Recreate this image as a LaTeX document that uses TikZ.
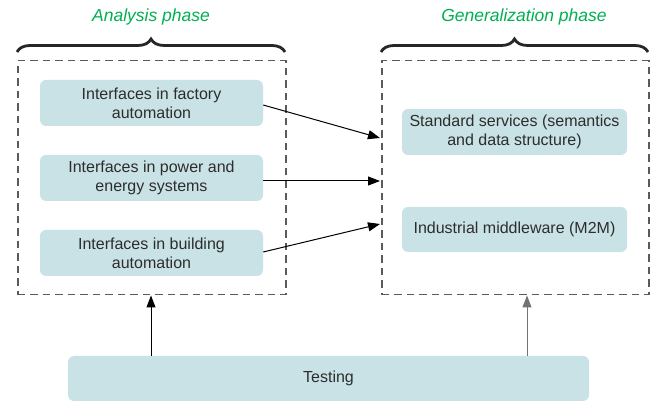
\documentclass[tikz,border=0pt]{standalone}
\usepackage{fontspec}
\setmainfont{Liberation Sans}
\usetikzlibrary{arrows.meta,decorations.pathreplacing}
\definecolor{boxfill}{RGB}{201,226,229}
\definecolor{txt}{RGB}{45,45,45}
\definecolor{phasegreen}{RGB}{0,176,80}
\definecolor{dashgray}{RGB}{90,90,90}
\tikzset{
  item/.style={fill=boxfill, rounded corners=6pt, text=txt, align=center, font=\fontsize{16}{19}\selectfont, inner sep=0pt},
  frame/.style={draw=dashgray, line width=1.5pt, dash pattern=on 7.5pt off 5pt},
  phase/.style={text=phasegreen, font=\fontsize{17.5}{20}\selectfont\itshape},
  conn/.style={-{Triangle[length=12pt,width=9pt]}, line width=1pt, black},
  brc/.style={decorate, decoration={brace, amplitude=13pt}, line width=2.8pt, black!85}
}
\begin{document}
\begin{tikzpicture}[x=1pt,y=-1pt]
\useasboundingbox (0,0) rectangle (657,403);
% frames
\node[frame, minimum width=268pt, minimum height=234pt, anchor=north west] (fa) at (17,60) {};
\node[frame, minimum width=267pt, minimum height=234pt, anchor=north west] (fg) at (381,60) {};
% braces
\draw[brc] (17,52) -- (285,52);
\draw[brc] (381,52) -- (648,52);
\node[phase] (ta) at (151,17) {Analysis phase};
\node[phase] (tg) at (524,17) {Generalization phase};
% left boxes
\node[item, minimum width=223pt, minimum height=46pt] (b1) at (151.5,103) {Interfaces in factory\\automation};
\node[item, minimum width=223pt, minimum height=46pt] (b2) at (151.5,178) {Interfaces in power and\\energy systems};
\node[item, minimum width=223pt, minimum height=46pt] (b3) at (151.5,253) {Interfaces in building\\automation};
% right boxes
\node[item, minimum width=225pt, minimum height=46pt] (r1) at (514.5,132) {Standard services (semantics\\and data structure)};
\node[item, minimum width=225pt, minimum height=45pt] (r2) at (514.5,229.5) {Industrial middleware (M2M)};
% testing
\node[item, minimum width=521pt, minimum height=45pt] (t) at (328.5,378.5) {Testing};
% connectors
\coordinate (e1) at (380,138);
\coordinate (e2) at (380,181);
\coordinate (e3) at (380,224);
\draw[conn] (b1.east |- 0,105) -- (e1);
\draw[conn] (b2.east |- 0,181) -- (e2);
\draw[conn] (b3.east |- 0,252) -- (e3);
\draw[conn] (t.north -| 151,0) -- (fa.south -| 151,0);
\draw[conn, draw=black!55] (t.north -| 527,0) -- (fg.south -| 527,0);
\end{tikzpicture}
\end{document}
